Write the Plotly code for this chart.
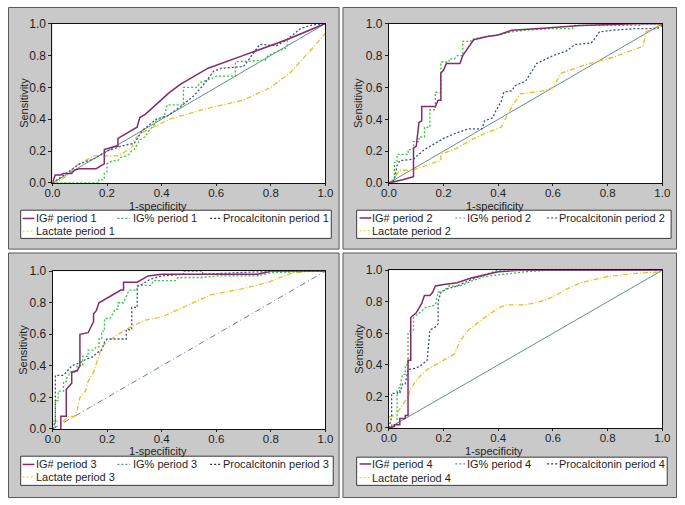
import plotly.graph_objects as go

# ---------------- data ----------------
tick_vals = [0.0, 0.2, 0.4, 0.6, 0.8, 1.0]
tick_text = ["0.0", "0.2", "0.4", "0.6", "0.8", "1.0"]
x_title = "1-specificity"
y_title = "Sensitivity"
series_names = ["IG#", "IG%", "Procalcitonin", "Lactate"]
periods = ["period 1", "period 2", "period 3", "period 4"]

ref_x = [0.0, 1.0]
ref_y = [0.0, 1.0]

# Period 1
ig_abs_p1_x = [0, 0.01, 0.03, 0.04, 0.07, 0.08, 0.1, 0.16, 0.18, 0.19, 0.19, 0.23, 0.24, 0.24, 0.31, 0.32, 0.34, 0.38, 0.43, 0.47, 0.57, 0.7, 0.78, 0.86, 1.0]
ig_abs_p1_y = [0, 0.05, 0.05, 0.06, 0.06, 0.08, 0.09, 0.09, 0.11, 0.12, 0.21, 0.23, 0.23, 0.28, 0.35, 0.41, 0.43, 0.49, 0.57, 0.62, 0.72, 0.8, 0.85, 0.9, 1.0]
ig_pct_p1_x = [0, 0.17, 0.17, 0.19, 0.19, 0.2, 0.2, 0.22, 0.24, 0.25, 0.27, 0.28, 0.29, 0.3, 0.31, 0.32, 0.34, 0.35, 0.37, 0.38, 0.41, 0.42, 0.48, 0.48, 0.53, 0.54, 0.59, 0.6, 0.67, 0.67, 0.78, 0.79, 0.86, 0.86, 1.0]
ig_pct_p1_y = [0, 0, 0.02, 0.02, 0.06, 0.07, 0.12, 0.14, 0.14, 0.16, 0.17, 0.18, 0.2, 0.21, 0.24, 0.27, 0.29, 0.32, 0.36, 0.39, 0.42, 0.49, 0.49, 0.6, 0.6, 0.63, 0.66, 0.67, 0.67, 0.76, 0.77, 0.8, 0.85, 0.9, 1.0]
pct_p1_x = [0, 0.05, 0.1, 0.15, 0.2, 0.25, 0.3, 0.33, 0.38, 0.42, 0.47, 0.52, 0.56, 0.59, 0.62, 0.7, 0.74, 0.76, 0.82, 0.86, 0.91, 0.95, 1.0]
pct_p1_y = [0, 0.06, 0.12, 0.15, 0.2, 0.23, 0.25, 0.33, 0.4, 0.42, 0.48, 0.55, 0.63, 0.7, 0.72, 0.73, 0.82, 0.87, 0.86, 0.9, 0.97, 0.99, 1.0]
lac_p1_x = [0, 0.02, 0.05, 0.08, 0.12, 0.15, 0.19, 0.24, 0.29, 0.3, 0.32, 0.38, 0.43, 0.55, 0.7, 0.8, 0.87, 0.95, 1.0]
lac_p1_y = [0, 0.01, 0.04, 0.1, 0.14, 0.17, 0.17, 0.17, 0.22, 0.27, 0.31, 0.36, 0.4, 0.46, 0.52, 0.6, 0.69, 0.84, 0.94]

# Period 2
ig_abs_p2_x = [0, 0.03, 0.05, 0.07, 0.09, 0.09, 0.1, 0.11, 0.12, 0.12, 0.17, 0.18, 0.19, 0.19, 0.2, 0.21, 0.26, 0.27, 0.3, 0.31, 0.36, 0.4, 0.45, 0.55, 0.7, 0.9, 1.0]
ig_abs_p2_y = [0, 0.01, 0.02, 0.03, 0.04, 0.22, 0.23, 0.38, 0.39, 0.48, 0.48, 0.52, 0.52, 0.69, 0.71, 0.75, 0.75, 0.8, 0.88, 0.9, 0.92, 0.93, 0.96, 0.97, 0.99, 1.0, 1.0]
ig_pct_p2_x = [0, 0.02, 0.02, 0.03, 0.03, 0.07, 0.07, 0.09, 0.09, 0.11, 0.11, 0.13, 0.13, 0.15, 0.15, 0.17, 0.17, 0.19, 0.19, 0.22, 0.22, 0.24, 0.25, 0.27, 0.27, 0.3, 0.3, 0.35, 0.4, 0.45, 0.5, 0.6, 0.67, 0.68, 0.92, 0.93, 1.0]
ig_pct_p2_y = [0, 0.01, 0.13, 0.13, 0.18, 0.18, 0.21, 0.21, 0.26, 0.26, 0.29, 0.29, 0.35, 0.35, 0.46, 0.46, 0.57, 0.57, 0.76, 0.76, 0.78, 0.78, 0.8, 0.8, 0.89, 0.89, 0.9, 0.92, 0.93, 0.95, 0.96, 0.97, 0.97, 0.99, 0.99, 1.0, 1.0]
pct_p2_x = [0, 0.02, 0.03, 0.04, 0.09, 0.13, 0.17, 0.2, 0.24, 0.29, 0.34, 0.35, 0.38, 0.39, 0.41, 0.42, 0.45, 0.46, 0.5, 0.54, 0.6, 0.65, 0.68, 0.74, 0.75, 0.77, 0.82, 0.9, 0.98, 1.0]
pct_p2_y = [0, 0.02, 0.11, 0.14, 0.15, 0.21, 0.25, 0.28, 0.31, 0.34, 0.34, 0.39, 0.41, 0.45, 0.51, 0.57, 0.58, 0.61, 0.64, 0.75, 0.8, 0.83, 0.87, 0.88, 0.9, 0.95, 0.96, 0.97, 0.97, 0.99]
lac_p2_x = [0, 0.02, 0.03, 0.04, 0.08, 0.12, 0.15, 0.19, 0.19, 0.22, 0.25, 0.3, 0.35, 0.41, 0.43, 0.45, 0.48, 0.57, 0.6, 0.63, 0.73, 0.82, 0.93, 0.94, 1.0]
lac_p2_y = [0, 0.03, 0.06, 0.08, 0.08, 0.1, 0.12, 0.14, 0.18, 0.2, 0.22, 0.27, 0.31, 0.35, 0.42, 0.48, 0.56, 0.58, 0.6, 0.69, 0.75, 0.79, 0.86, 0.95, 1.0]

# Period 3
ig_abs_p3_x = [0.03, 0.03, 0.05, 0.05, 0.06, 0.07, 0.07, 0.09, 0.1, 0.1, 0.13, 0.14, 0.15, 0.15, 0.16, 0.17, 0.2, 0.23, 0.25, 0.26, 0.26, 0.31, 0.33, 0.35, 0.4, 0.5, 0.75, 0.8, 1.0]
ig_abs_p3_y = [0, 0.08, 0.08, 0.25, 0.27, 0.29, 0.36, 0.37, 0.4, 0.6, 0.61, 0.65, 0.68, 0.73, 0.75, 0.8, 0.83, 0.86, 0.88, 0.88, 0.93, 0.93, 0.95, 0.97, 0.98, 0.98, 0.98, 1.0, 1.0]
ig_pct_p3_x = [0, 0.01, 0.01, 0.02, 0.02, 0.04, 0.04, 0.05, 0.05, 0.06, 0.06, 0.09, 0.09, 0.11, 0.11, 0.13, 0.13, 0.15, 0.16, 0.17, 0.17, 0.18, 0.18, 0.19, 0.19, 0.21, 0.22, 0.23, 0.24, 0.24, 0.26, 0.27, 0.28, 0.31, 0.31, 0.36, 0.37, 0.45, 0.46, 0.55, 0.6, 0.75, 0.8, 0.95, 1.0]
ig_pct_p3_y = [0, 0, 0.18, 0.18, 0.24, 0.24, 0.3, 0.3, 0.32, 0.34, 0.36, 0.36, 0.4, 0.4, 0.46, 0.46, 0.5, 0.5, 0.52, 0.52, 0.57, 0.57, 0.62, 0.62, 0.7, 0.7, 0.73, 0.76, 0.76, 0.8, 0.8, 0.84, 0.88, 0.88, 0.91, 0.91, 0.94, 0.94, 0.96, 0.96, 0.97, 0.97, 0.99, 1.0, 1.0]
pct_p3_x = [0, 0.01, 0.01, 0.04, 0.05, 0.07, 0.1, 0.12, 0.15, 0.16, 0.18, 0.19, 0.2, 0.23, 0.25, 0.27, 0.27, 0.29, 0.29, 0.31, 0.31, 0.33, 0.36, 0.4, 0.48, 0.48, 0.55, 0.55, 0.8, 1.0]
pct_p3_y = [0, 0.05, 0.34, 0.34, 0.36, 0.4, 0.42, 0.44, 0.46, 0.48, 0.5, 0.55, 0.57, 0.57, 0.57, 0.57, 0.63, 0.63, 0.77, 0.77, 0.9, 0.92, 0.95, 0.97, 0.98, 1.0, 1.0, 0.98, 1.0, 1.0]
lac_p3_x = [0, 0.04, 0.06, 0.08, 0.09, 0.1, 0.12, 0.13, 0.15, 0.16, 0.17, 0.18, 0.2, 0.24, 0.29, 0.34, 0.4, 0.45, 0.5, 0.58, 0.7, 0.79, 0.88, 0.95, 1.0]
lac_p3_y = [0.05, 0.05, 0.08, 0.08, 0.12, 0.2, 0.24, 0.3, 0.36, 0.41, 0.46, 0.52, 0.55, 0.6, 0.65, 0.69, 0.71, 0.75, 0.79, 0.85, 0.89, 0.93, 0.99, 1.0, 1.0]

# Period 4
ig_abs_p4_x = [0, 0.02, 0.02, 0.04, 0.04, 0.06, 0.06, 0.07, 0.07, 0.08, 0.08, 0.1, 0.11, 0.12, 0.13, 0.15, 0.16, 0.17, 0.2, 0.25, 0.3, 0.35, 0.4, 0.48, 1.0]
ig_abs_p4_y = [0, 0.01, 0.02, 0.02, 0.06, 0.06, 0.08, 0.08, 0.43, 0.43, 0.7, 0.73, 0.76, 0.79, 0.84, 0.84, 0.86, 0.9, 0.91, 0.92, 0.95, 0.97, 0.99, 1.0, 1.0]
ig_pct_p4_x = [0, 0.01, 0.01, 0.03, 0.03, 0.04, 0.05, 0.06, 0.06, 0.07, 0.07, 0.08, 0.09, 0.09, 0.12, 0.13, 0.15, 0.17, 0.18, 0.2, 0.22, 0.26, 0.3, 0.35, 0.4, 0.5, 0.58, 1.0]
ig_pct_p4_y = [0, 0.0, 0.02, 0.02, 0.24, 0.26, 0.34, 0.34, 0.4, 0.4, 0.6, 0.62, 0.62, 0.7, 0.74, 0.76, 0.77, 0.78, 0.86, 0.87, 0.9, 0.9, 0.93, 0.96, 0.97, 0.99, 1.0, 1.0]
pct_p4_x = [0, 0.01, 0.01, 0.03, 0.04, 0.04, 0.05, 0.06, 0.07, 0.1, 0.12, 0.14, 0.15, 0.17, 0.18, 0.18, 0.19, 0.21, 0.25, 0.3, 0.35, 0.4, 1.0]
pct_p4_y = [0, 0.07, 0.22, 0.22, 0.24, 0.22, 0.28, 0.28, 0.37, 0.38, 0.4, 0.43, 0.62, 0.64, 0.66, 0.8, 0.86, 0.88, 0.9, 0.94, 0.97, 1.0, 1.0]
lac_p4_x = [0, 0.02, 0.04, 0.06, 0.07, 0.08, 0.1, 0.12, 0.14, 0.18, 0.22, 0.24, 0.26, 0.29, 0.35, 0.4, 0.43, 0.5, 0.55, 0.6, 0.65, 0.7, 0.8, 0.9, 1.0]
lac_p4_y = [0.07, 0.08, 0.12, 0.17, 0.2, 0.25, 0.3, 0.34, 0.37, 0.41, 0.45, 0.47, 0.55, 0.62, 0.7, 0.76, 0.78, 0.78, 0.8, 0.83, 0.88, 0.92, 0.96, 0.98, 0.99]

panel_data = [
    [(ig_abs_p1_x, ig_abs_p1_y), (ig_pct_p1_x, ig_pct_p1_y), (pct_p1_x, pct_p1_y), (lac_p1_x, lac_p1_y)],
    [(ig_abs_p2_x, ig_abs_p2_y), (ig_pct_p2_x, ig_pct_p2_y), (pct_p2_x, pct_p2_y), (lac_p2_x, lac_p2_y)],
    [(ig_abs_p3_x, ig_abs_p3_y), (ig_pct_p3_x, ig_pct_p3_y), (pct_p3_x, pct_p3_y), (lac_p3_x, lac_p3_y)],
    [(ig_abs_p4_x, ig_abs_p4_y), (ig_pct_p4_x, ig_pct_p4_y), (pct_p4_x, pct_p4_y), (lac_p4_x, lac_p4_y)],
]

# ---------------- styling ----------------
W, H = 685, 505
FONT = "Liberation Sans, Arial, sans-serif"
TXT = "#1e1e1e"
line_styles = [
    dict(color="#862a6a", width=1.5, dash="solid"),
    dict(color="#33c43a", width=1.3, dash="2px,2px"),
    dict(color="#3a5090", width=1.3, dash="2px,2px"),
    dict(color="#e4c024", width=1.3, dash="5px,2px,1px,2px"),
]
ref_styles = [
    dict(color="#5f9090", width=1, dash="solid"),
    dict(color="#5f9090", width=1, dash="solid"),
    dict(color="#667f99", width=1, dash="6px,3px,1px,3px"),
    dict(color="#5f9090", width=1, dash="solid"),
]
legend_sample = [
    dict(color="#862a6a", width=1.5, dash="solid"),
    dict(color="#4b9a8c", width=1.2, dash="2px,2px"),
    dict(color="#333333", width=1.2, dash="2px,2px"),
    dict(color="#ecd84a", width=1.2, dash="2px,2px"),
]

# pixel layout of each panel
panels = [
    dict(box=(0.5, 0.5, 339, 249), plot=(45.5, 17, 325, 181), xt=(154, 204.5), yt=17,
         leg=(13, 209, 331, 238), rows=(217.5, 230.5), cols=((15, 27, 27), (112, 125, 126), (207, 218, 218))),
    dict(box=(343, 0.5, 684.5, 249), plot=(390, 17.3, 670, 181), xt=(499, 204.5), yt=359,
         leg=(357, 209, 679, 238), rows=(217, 230), cols=((360, 372, 371), (458, 468, 468), (552, 563, 562))),
    dict(box=(0.5, 253, 339, 504.5), plot=(45.7, 271.7, 325, 434), xt=(154, 457), yt=15,
         leg=(13, 462, 333, 492), rows=(470.5, 483.5), cols=((15, 27, 27), (112, 125, 126), (207, 218, 218))),
    dict(box=(343, 253, 684.5, 504.5), plot=(390, 270.7, 670, 433), xt=(498, 457), yt=359,
         leg=(357, 463, 675, 492), rows=(470, 484), cols=((360, 372, 371), (458, 468, 468), (552, 563, 562))),
]

def px(x):
    return x / W

def py(y):
    return 1 - y / H

fig = go.Figure()
shapes = []
annotations = []
layout_axes = {}

for i, p in enumerate(panels):
    n = i + 1
    xa = "x" if n == 1 else f"x{n}"
    ya = "y" if n == 1 else f"y{n}"
    x0, y0, x1, y1 = p["plot"]
    bx0, by0, bx1, by1 = p["box"]
    shapes.append(dict(type="rect", xref="paper", yref="paper", x0=px(bx0), x1=px(bx1), y0=py(by1), y1=py(by0),
                       fillcolor="#c9c9c9", line=dict(color="#5a5a5a", width=1), layer="below"))
    shapes.append(dict(type="rect", xref="paper", yref="paper", x0=px(x0), x1=px(x1), y0=py(y1), y1=py(y0),
                       fillcolor="white", line=dict(width=0), layer="below"))
    lx0, ly0, lx1, ly1 = p["leg"]
    shapes.append(dict(type="rect", xref="paper", yref="paper", x0=px(lx0), x1=px(lx1), y0=py(ly1), y1=py(ly0),
                       fillcolor="white", line=dict(color="#3a3a3a", width=1), layer="below"))
    entries = [(p["cols"][0], p["rows"][0]), (p["cols"][1], p["rows"][0]),
               (p["cols"][2], p["rows"][0]), (p["cols"][0], p["rows"][1])]
    for k, ((sx0, sx1, tx), ry) in enumerate(entries):
        shapes.append(dict(type="line", xref="paper", yref="paper", x0=px(sx0), x1=px(sx1), y0=py(ry), y1=py(ry),
                           line=legend_sample[k], layer="below"))
        annotations.append(dict(text=f"{series_names[k]} {periods[i]}", xref="paper", yref="paper",
                                x=px(tx), y=py(ry), xanchor="left", yanchor="middle", showarrow=False,
                                font=dict(family=FONT, size=11, color=TXT)))
    annotations.append(dict(text=x_title, xref="paper", yref="paper", x=px(p["xt"][0]), y=py(p["xt"][1]),
                            xanchor="center", yanchor="middle", showarrow=False, borderpad=0,
                            font=dict(family=FONT, size=11, color=TXT)))
    annotations.append(dict(text=y_title, xref="paper", yref="paper", x=px(p["yt"]), y=py((y0 + y1) / 2),
                            xanchor="center", yanchor="middle", showarrow=False, textangle=-90,
                            font=dict(family=FONT, size=11, color=TXT)))

    axis_common = dict(range=[0, 1], tickvals=tick_vals, ticktext=tick_text, ticks="outside",
                       tickcolor="#222", showline=True, linecolor="#111", linewidth=1, mirror=True,
                       showgrid=False, zeroline=False, fixedrange=True)
    layout_axes["xaxis" if n == 1 else f"xaxis{n}"] = dict(domain=[px(x0), px(x1)], anchor=ya, ticklen=2,
                                                          ticklabelstandoff=-3,
                                                          tickfont=dict(family=FONT, size=11.5, color=TXT),
                                                          **axis_common)
    layout_axes["yaxis" if n == 1 else f"yaxis{n}"] = dict(domain=[py(y1), py(y0)], anchor=xa, ticklen=3,
                                                          tickfont=dict(family=FONT, size=12, color=TXT),
                                                          **axis_common)

    fig.add_trace(go.Scatter(x=ref_x, y=ref_y, mode="lines", line=ref_styles[i], xaxis=xa, yaxis=ya,
                             showlegend=False, hoverinfo="skip"))
    for k in [3, 2, 1, 0]:
        cx, cy = panel_data[i][k]
        fig.add_trace(go.Scatter(x=cx, y=cy, mode="lines", line=line_styles[k], xaxis=xa, yaxis=ya,
                                 name=f"{series_names[k]} {periods[i]}", showlegend=False))

fig.update_layout(
    width=W, height=H, margin=dict(l=0, r=0, t=0, b=0),
    paper_bgcolor="white", plot_bgcolor="rgba(0,0,0,0)",
    showlegend=False, shapes=shapes, annotations=annotations,
    font=dict(family=FONT, color=TXT),
    **layout_axes,
)

fig.write_html("out.html", config={"displayModeBar": False},
               post_script="document.body.style.margin='0';document.body.style.overflow='hidden';")
